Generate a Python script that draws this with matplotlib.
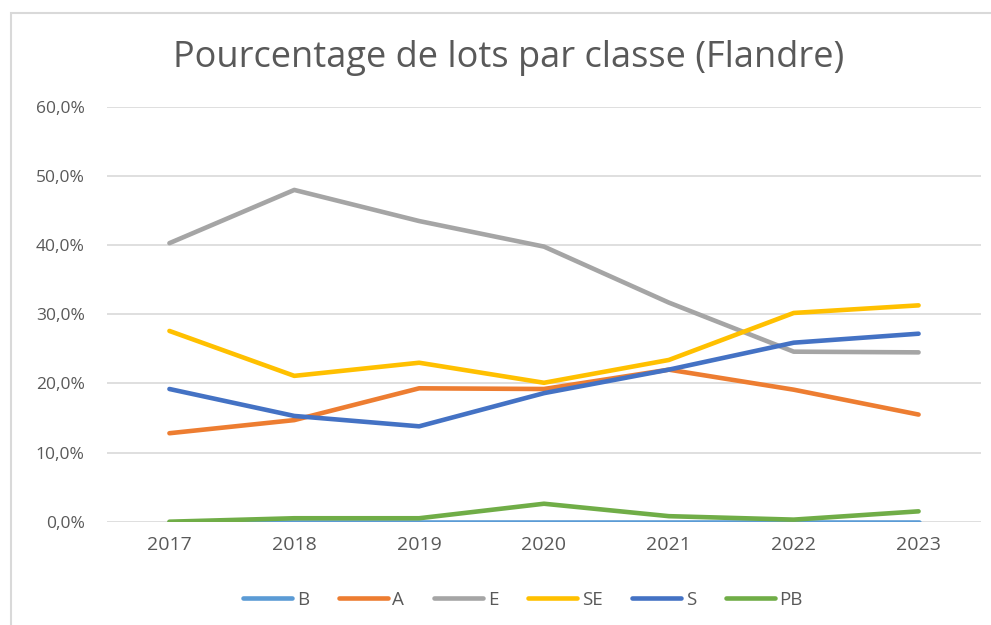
import matplotlib.pyplot as plt
from matplotlib.patches import Rectangle
from matplotlib.ticker import FuncFormatter

years = ["2017", "2018", "2019", "2020", "2021", "2022", "2023"]
b_vals = [0.0, 0.0, 0.0, 0.0, 0.0, 0.0, 0.0]
a_vals = [12.8, 14.7, 19.3, 19.2, 22.0, 19.1, 15.5]
e_vals = [40.3, 48.0, 43.5, 39.8, 31.7, 24.6, 24.5]
se_vals = [27.6, 21.1, 23.0, 20.1, 23.4, 30.2, 31.3]
s_vals = [19.2, 15.3, 13.8, 18.6, 22.0, 25.9, 27.2]
pb_vals = [0.0, 0.5, 0.5, 2.6, 0.8, 0.3, 1.5]

series = [
    ("B", b_vals, "#5b9bd5"),
    ("A", a_vals, "#ed7d31"),
    ("E", e_vals, "#a5a5a5"),
    ("SE", se_vals, "#ffc000"),
    ("S", s_vals, "#4472c4"),
    ("PB", pb_vals, "#70ad47"),
]

plt.rcParams['font.family'] = ['Open Sans', 'DejaVu Sans']
text_color = "#595959"

fig = plt.figure(figsize=(9.91, 6.25), dpi=100)
ax = fig.add_axes([107 / 991, 1 - 521.7 / 625, 874 / 991, (521.7 - 107) / 625])

# chart border (partly cropped in the original)
fig.patches.append(Rectangle((11 / 991, -0.1), 1.1, 1 - 13 / 625 + 0.1,
                             transform=fig.transFigure, fill=False,
                             edgecolor="#d9d9d9", lw=1.5))

x = list(range(len(years)))
for name, vals, color in series:
    ax.plot(x, vals, color=color, lw=3.3, solid_capstyle="round", label=name)

ax.set_xlim(-0.5, len(years) - 0.5)
ax.set_ylim(0, 60)
ax.set_yticks(range(0, 61, 10))
ax.yaxis.set_major_formatter(FuncFormatter(lambda v, p: f"{v:.1f}%".replace(".", ",")))
ax.set_xticks(x)
ax.set_xticklabels(years)
ax.grid(axis="y", color="#d9d9d9", lw=1.2)
ax.set_axisbelow(True)
for sp in ax.spines.values():
    sp.set_visible(False)
ax.tick_params(length=0, colors=text_color)
ax.tick_params(axis="y", pad=16, labelsize=12.5)
ax.tick_params(axis="x", pad=10, labelsize=14)

fig.text(0.513, 1 - 58 / 625, "Pourcentage de lots par classe (Flandre)",
         ha="center", va="center", fontsize=26, color=text_color)

leg = fig.legend(loc="center", bbox_to_anchor=(0.528, 1 - 600 / 625), ncol=6,
                 frameon=False, fontsize=13.5, handlelength=2.6, columnspacing=1.6,
                 handletextpad=0.25)
for t in leg.get_texts():
    t.set_color(text_color)

fig.savefig("out.png", dpi=100)
